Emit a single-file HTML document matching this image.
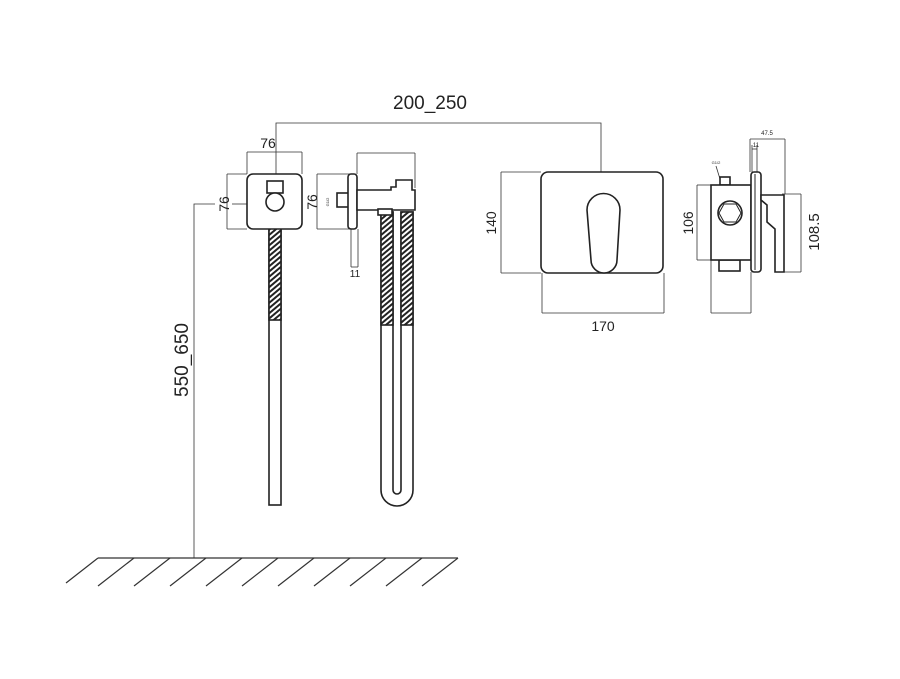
<!DOCTYPE html>
<html><head><style>body{margin:0;background:#fff}svg{display:block}text{font-family:"Liberation Sans",sans-serif;fill:#222}</style></head><body>
<svg width="900" height="679" viewBox="0 0 900 679" xmlns="http://www.w3.org/2000/svg">
<defs>
<pattern id="h" width="4" height="4" patternUnits="userSpaceOnUse" patternTransform="rotate(-40)"><rect width="4" height="4" fill="#fff"/><rect width="4" height="2" fill="#222"/></pattern>
</defs>
<g fill="none" stroke="#333" stroke-width="0.8">
<!-- 200_250 dim -->
<polyline points="276,175 276,123 601,123 601,172"/>
<!-- 550_650 -->
<polyline points="194,558 194,204 215,204"/>
<line x1="232" y1="204" x2="247" y2="204"/>
<!-- plate1 dims -->
<line x1="247" y1="152" x2="302" y2="152"/><line x1="247" y1="152" x2="247" y2="174"/><line x1="302" y1="152" x2="302" y2="174"/>
<line x1="227" y1="174" x2="227" y2="229"/><line x1="227" y1="174" x2="247" y2="174"/><line x1="227" y1="229" x2="247" y2="229"/>
<!-- side view 2 dims -->
<line x1="357" y1="153" x2="415" y2="153"/><line x1="357" y1="153" x2="357" y2="174"/><line x1="415" y1="153" x2="415" y2="188"/>
<line x1="317" y1="174" x2="317" y2="229"/><line x1="317" y1="174" x2="350" y2="174"/><line x1="317" y1="229" x2="350" y2="229"/>
<line x1="351" y1="229" x2="351" y2="267"/><line x1="358" y1="229" x2="358" y2="267"/><line x1="351" y1="267" x2="358" y2="267"/>
<!-- plate3 dims -->
<line x1="501" y1="172" x2="501" y2="273"/><line x1="501" y1="172" x2="541" y2="172"/><line x1="501" y1="273" x2="541" y2="273"/>
<line x1="542" y1="313" x2="664" y2="313"/><line x1="542" y1="273" x2="542" y2="313"/><line x1="664" y1="273" x2="664" y2="313"/>
<!-- view4 dims -->
<line x1="697" y1="185" x2="697" y2="260"/><line x1="697" y1="185" x2="711" y2="185"/><line x1="697" y1="260" x2="711" y2="260"/>
<line x1="801" y1="194" x2="801" y2="272"/><line x1="782" y1="194" x2="801" y2="194"/><line x1="784" y1="272" x2="801" y2="272"/>
<line x1="750" y1="139" x2="785" y2="139"/><line x1="750" y1="139" x2="750" y2="172"/><line x1="785" y1="139" x2="785" y2="194"/>
<line x1="752" y1="149" x2="757" y2="149"/><line x1="752" y1="145" x2="752" y2="172"/><line x1="757" y1="145" x2="757" y2="172"/>
<line x1="711" y1="313" x2="751" y2="313"/><line x1="711" y1="260" x2="711" y2="313"/><line x1="751" y1="272" x2="751" y2="313"/>
<line x1="716" y1="166" x2="728" y2="205"/>
<!-- floor -->
<line x1="98" y1="558" x2="458" y2="558" stroke-width="1.2"/>
<g stroke-width="1.2">
<line x1="98" y1="558" x2="66" y2="583"/><line x1="134" y1="558" x2="98" y2="586"/><line x1="170" y1="558" x2="134" y2="586"/><line x1="206" y1="558" x2="170" y2="586"/><line x1="242" y1="558" x2="206" y2="586"/><line x1="278" y1="558" x2="242" y2="586"/><line x1="314" y1="558" x2="278" y2="586"/><line x1="350" y1="558" x2="314" y2="586"/><line x1="386" y1="558" x2="350" y2="586"/><line x1="422" y1="558" x2="386" y2="586"/><line x1="458" y1="558" x2="422" y2="586"/>
</g>
</g>
<g stroke="#222" stroke-width="1.6" fill="#fff">
<!-- view1 -->
<rect x="269" y="210" width="12" height="295" />
<rect x="269" y="210" width="12" height="110" fill="url(#h)"/>
<rect x="247" y="174" width="55" height="55" rx="6"/>
<rect x="267" y="181" width="16" height="12"/>
<circle cx="275" cy="202" r="9"/>
<!-- view2 hoses -->
<path d="M381,212 V490 a16,16 0 0 0 32,0 V212 H401 V490 a4,4 0 0 1 -8,0 V212 Z"/>
<rect x="381" y="212" width="12" height="113" fill="url(#h)"/>
<rect x="401" y="212" width="12" height="113" fill="url(#h)"/>
<rect x="337" y="193" width="12" height="14"/>
<rect x="348" y="174" width="9" height="55" rx="3"/>
<path d="M357,190 H391 V187 H396 V180 H412 V190 H415 V210 H357 Z"/>
<rect x="378" y="209" width="14" height="6"/>
<!-- plate3 -->
<rect x="541" y="172" width="122" height="101" rx="7"/>
<path d="M587,210 a16.5,16.5 0 0 1 33,0 L617,260 a13,13 0 0 1 -26,0 Z"/>
<!-- view4 -->
<rect x="720" y="177" width="10" height="8"/>
<rect x="719" y="260" width="21" height="11"/>
<rect x="711" y="185" width="40" height="75"/>
<circle cx="730" cy="213" r="12"/>
<polygon points="724,204 736,204 741,213 736,222 724,222 719,213" stroke-width="1"/>
<rect x="751" y="172" width="10" height="100" rx="3"/>
<line x1="755" y1="174" x2="755" y2="270" stroke-width="1"/>
<path d="M761,195 H784 V272 H775 V229 L767,222 V205 L761,200 Z"/>
</g>
<text x="430" y="109" font-size="19" text-anchor="middle">200_250</text>
<text x="268" y="148" font-size="14" text-anchor="middle">76</text>
<text transform="translate(229,204) rotate(-90)" font-size="14" text-anchor="middle">76</text>
<text transform="translate(317,202) rotate(-90)" font-size="14" text-anchor="middle">76</text>
<text transform="translate(188,360) rotate(-90)" font-size="19" text-anchor="middle">550_650</text>
<text x="355" y="277" font-size="10" text-anchor="middle">11</text>
<text transform="translate(329,202) rotate(-90)" font-size="4" text-anchor="middle">G1/2</text>
<text transform="translate(496,223) rotate(-90)" font-size="14" text-anchor="middle">140</text>
<text x="603" y="331" font-size="14" text-anchor="middle">170</text>
<text transform="translate(693,223) rotate(-90)" font-size="14" text-anchor="middle">106</text>
<text transform="translate(819,232) rotate(-90)" font-size="15" text-anchor="middle">108.5</text>
<text x="767" y="135" font-size="6" text-anchor="middle">47.5</text>
<text x="756" y="147" font-size="6" text-anchor="middle">11</text>
<text x="716" y="164" font-size="4" text-anchor="middle">G1/2</text>
</svg>
</body></html>
